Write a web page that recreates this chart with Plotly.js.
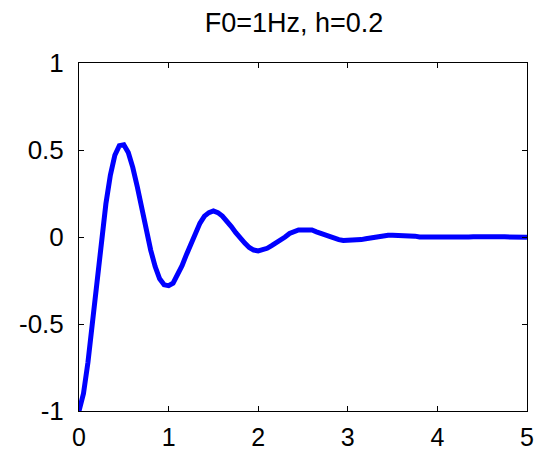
<!DOCTYPE html>
<html>
<head>
<meta charset="utf-8">
<script src="https://cdn.plot.ly/plotly-3.0.1.min.js"></script>
<style>html,body{margin:0;padding:0;background:#fff;}#chart{width:534px;height:452px;}</style>
</head>
<body>
<div id="chart"></div>
<script>
var chartTitle = "F0=1Hz, h=0.2";
var timeSec = [0,0.05,0.1,0.15,0.2,0.25,0.3,0.35,0.4,0.45,0.5,0.55,0.6,0.65,0.7,0.75,0.8,0.85,0.9,0.95,
  1,1.05,1.1,1.15,1.2,1.25,1.3,1.35,1.4,1.45,1.5,1.55,1.6,1.65,1.7,1.75,1.8,1.85,1.9,1.95,
  2,2.05,2.1,2.15,2.2,2.25,2.3,2.35,2.4,2.45,2.5,2.55,2.6,2.65,2.7,2.75,2.8,2.85,2.9,2.95,
  3,3.05,3.1,3.15,3.2,3.25,3.3,3.35,3.4,3.45,3.5,3.55,3.6,3.65,3.7,3.75,3.8,3.85,3.9,3.95,
  4,4.05,4.1,4.15,4.2,4.25,4.3,4.35,4.4,4.45,4.5,4.55,4.6,4.65,4.7,4.75,4.8,4.85,4.9,4.95,5];
var response = [-1.00,-0.90,-0.72,-0.50,-0.26,-0.02,0.19,0.355,0.47,0.525,0.53,0.485,0.40,0.29,0.165,0.04,-0.075,-0.17,-0.24,-0.275,
  -0.28,-0.265,-0.22,-0.165,-0.10,-0.035,0.03,0.08,0.12,0.14,0.15,0.14,0.12,0.095,0.06,0.025,-0.01,-0.035,-0.06,-0.075,
  -0.08,-0.075,-0.065,-0.05,-0.035,-0.015,0.00,0.02,0.03,0.04,0.04,0.04,0.04,0.03,0.02,0.01,0.00,-0.01,-0.015,-0.02,
  -0.02,-0.02,-0.02,-0.015,-0.01,-0.005,0.00,0.005,0.01,0.01,0.01,0.01,0.01,0.01,0.01,0.005,0.00,0.00,-0.003,-0.005,
  -0.005,-0.006,-0.006,-0.005,-0.004,-0.002,-0.001,0.000,0.002,0.003,0.003,0.003,0.003,0.003,0.002,0.001,0.001,0.000,-0.001,-0.001,-0.002];
var xTickVals = [0,1,2,3,4,5];
var xTickText = ["0","1","2","3","4","5"];
var yTickVals = [-1,-0.5,0,0.5,1];
var yTickText = ["-1","-0.5","0","0.5","1"];

var font = "Liberation Sans, Arial, sans-serif";
var trace = {
  x: timeSec, y: response, type: "scatter", mode: "lines",
  line: {color: "#0000ff", width: 5}, hoverinfo: "none"
};
var axisCommon = {
  showgrid: false, zeroline: false, showline: true, linecolor: "#000", linewidth: 1,
  mirror: "ticks", ticks: "inside", ticklen: 5, tickcolor: "#000", tickwidth: 1,
  tickmode: "array"
};
var layout = {
  width: 534, height: 452,
  margin: {l: 79, r: 7, t: 63, b: 41, pad: 0},
  paper_bgcolor: "#fff", plot_bgcolor: "#fff",
  showlegend: false,
  title: {text: chartTitle, font: {family: font, size: 27, color: "#000"},
          xref: "paper", x: 0.48, xanchor: "center", yref: "container", y: 0.951, yanchor: "middle"},
  xaxis: Object.assign({}, axisCommon, {range: [0, 5], tickvals: xTickVals, ticktext: xTickText, ticklabelstandoff: 4,
          tickfont: {family: font, size: 25, color: "#000"}}),
  yaxis: Object.assign({}, axisCommon, {range: [-1, 1], tickvals: yTickVals, ticktext: yTickText, ticklabelstandoff: 9,
          tickfont: {family: font, size: 26, color: "#000"}})
};
Plotly.newPlot("chart", [trace], layout, {displayModeBar: false, staticPlot: true});
</script>
</body>
</html>
